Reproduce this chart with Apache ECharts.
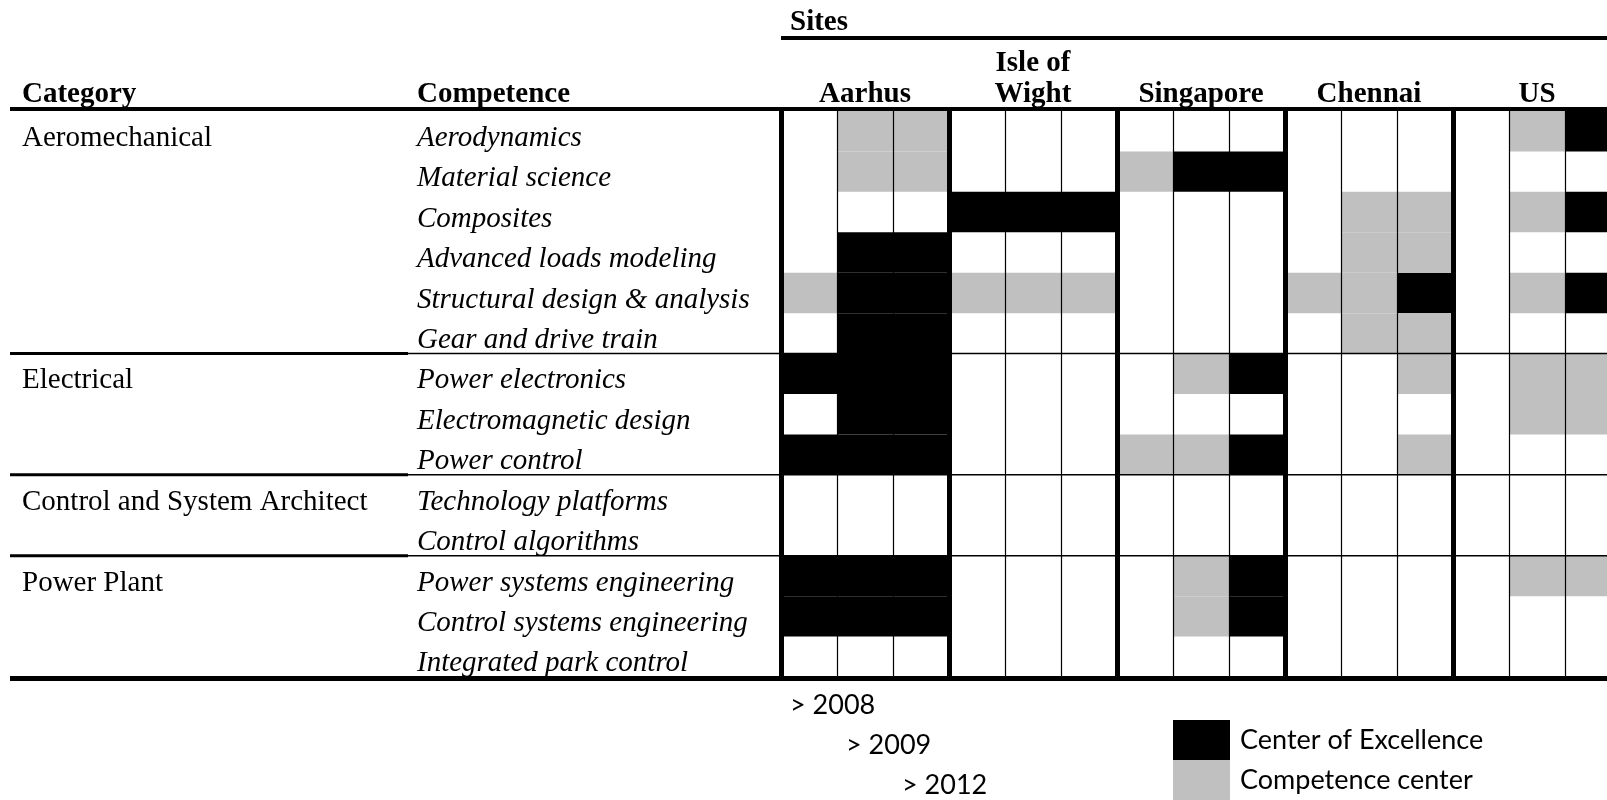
<!DOCTYPE html>
<html>
<head>
<meta charset="utf-8">
<title>Competence centers by site</title>
<script src="https://cdn.jsdelivr.net/npm/echarts@6/dist/echarts.min.js"></script>
<style>
  html, body { margin: 0; padding: 0; background: #fff; }
  #chart { width: 1607px; height: 800px; }
</style>
</head>
<body>
<div id="chart"></div>
<script>
const sites = ['Aarhus', 'Isle of\nWight', 'Singapore', 'Chennai', 'US'];
const years = ['> 2008', '> 2009', '> 2012'];
const categories = ['Aeromechanical', 'Electrical', 'Control and System Architect', 'Power Plant'];
const categoryRows = [6, 3, 2, 3];
const competences = [
  'Aerodynamics', 'Material science', 'Composites', 'Advanced loads modeling',
  'Structural design & analysis', 'Gear and drive train',
  'Power electronics', 'Electromagnetic design', 'Power control',
  'Technology platforms', 'Control algorithms',
  'Power systems engineering', 'Control systems engineering', 'Integrated park control'
];

// 0 = nothing, 1 = Competence center, 2 = Center of Excellence
// one list per year column (> 2008, > 2009, > 2012), one value per competence
const aarhus = [
  [0, 0, 0, 0, 1, 0, 2, 0, 2, 0, 0, 2, 2, 0],
  [1, 1, 0, 2, 2, 2, 2, 2, 2, 0, 0, 2, 2, 0],
  [1, 1, 0, 2, 2, 2, 2, 2, 2, 0, 0, 2, 2, 0]
];
const isleOfWight = [
  [0, 0, 2, 0, 1, 0, 0, 0, 0, 0, 0, 0, 0, 0],
  [0, 0, 2, 0, 1, 0, 0, 0, 0, 0, 0, 0, 0, 0],
  [0, 0, 2, 0, 1, 0, 0, 0, 0, 0, 0, 0, 0, 0]
];
const singapore = [
  [0, 1, 0, 0, 0, 0, 0, 0, 1, 0, 0, 0, 0, 0],
  [0, 2, 0, 0, 0, 0, 1, 0, 1, 0, 0, 1, 1, 0],
  [0, 2, 0, 0, 0, 0, 2, 0, 2, 0, 0, 2, 2, 0]
];
const chennai = [
  [0, 0, 0, 0, 1, 0, 0, 0, 0, 0, 0, 0, 0, 0],
  [0, 0, 1, 1, 1, 1, 0, 0, 0, 0, 0, 0, 0, 0],
  [0, 0, 1, 1, 2, 1, 1, 0, 1, 0, 0, 0, 0, 0]
];
const us = [
  [0, 0, 0, 0, 0, 0, 0, 0, 0, 0, 0, 0, 0, 0],
  [1, 0, 1, 0, 1, 0, 1, 1, 0, 0, 0, 1, 0, 0],
  [2, 0, 2, 0, 2, 0, 1, 1, 0, 0, 0, 1, 0, 0]
];

const SERIF = "'Liberation Serif', 'Times New Roman', serif";
const SANS = "Lato, 'Open Sans', sans-serif";
const RIGHT = 1607;

const columns = [].concat(aarhus, isleOfWight, singapore, chennai, us);
const nCols = columns.length;
const nRows = competences.length;

function cellsOf(level) {
  const out = [];
  columns.forEach((col, c) => {
    col.forEach((v, r) => {
      if (v === level) out.push([c, r]);
    });
  });
  return out;
}

// category name only on the first row of its block
const rowCategory = [];
categories.forEach((name, i) => {
  for (let k = 0; k < categoryRows[i]; k++) rowCategory.push(k === 0 ? name : '');
});

const groupEdges = [];
for (let i = 0; i <= sites.length; i++) groupEdges.push({ xAxis: i * 3 });

function renderCell(params, api) {
  const p0 = api.coord([api.value(0), api.value(1)]);
  const p1 = api.coord([api.value(0) + 1, api.value(1) + 1]);
  return {
    type: 'rect',
    shape: {
      x: Math.min(p0[0], p1[0]),
      y: Math.min(p0[1], p1[1]),
      width: Math.abs(p1[0] - p0[0]),
      height: Math.abs(p1[1] - p0[1])
    },
    style: { fill: api.visual('color') }
  };
}

const labelBase = { color: '#000', fontFamily: SERIF, fontSize: 29 };
const hidden = { axisLine: { show: false }, axisTick: { show: false }, splitLine: { show: false } };

const option = {
  animation: false,
  backgroundColor: '#fff',
  grid: [
    // cells
    { left: 781, top: 111, width: 840, height: 566, containLabel: false, outerBoundsMode: 'none' },
    // row labels, sitting a little lower like the text baseline of the table
    { left: 781, top: 118, width: 840, height: 566, containLabel: false, outerBoundsMode: 'none' }
  ],
  legend: {
    orient: 'vertical',
    left: 1173,
    top: 720,
    padding: 0,
    itemGap: 0,
    itemWidth: 57,
    itemHeight: 40,
    icon: 'rect',
    selectedMode: false,
    data: ['Center of Excellence', 'Competence center'],
    textStyle: { color: '#000', fontFamily: SANS, fontSize: 27, padding: [0, 0, 0, 5] }
  },
  xAxis: [
    {
      type: 'value', min: 0, max: nCols, interval: 1, z: 3,
      axisLine: { show: false }, axisTick: { show: false }, axisLabel: { show: false },
      splitLine: { show: true, lineStyle: { color: '#000', width: 1.2 } }
    },
    Object.assign({
      type: 'category', position: 'top', data: columns.map((c, i) => i),
      axisLabel: Object.assign({}, labelBase, {
        interval: 0, margin: 1, fontWeight: 'bold', lineHeight: 31,
        formatter: (v, i) => (i % 3 === 1 ? sites[Math.floor(i / 3)] : '')
      })
    }, hidden),
    { type: 'value', gridIndex: 1, show: false }
  ],
  yAxis: [
    Object.assign({
      type: 'value', position: 'left', min: 0, max: nRows, interval: 1, inverse: true,
      axisLabel: { show: false }
    }, hidden),
    Object.assign({
      type: 'category', gridIndex: 1, position: 'left', inverse: true, data: competences,
      axisLabel: Object.assign({}, labelBase, {
        interval: 0, align: 'left', margin: 364, fontStyle: 'italic'
      })
    }, hidden),
    Object.assign({
      type: 'category', gridIndex: 1, position: 'left', inverse: true, data: rowCategory.map((n, i) => i),
      axisLabel: Object.assign({}, labelBase, {
        interval: 0, align: 'left', margin: 759,
        formatter: (v, i) => rowCategory[i]
      })
    }, hidden)
  ],
  series: [
    {
      name: 'Center of Excellence',
      type: 'custom',
      xAxisIndex: 0, yAxisIndex: 0,
      encode: { x: 0, y: 1 },
      itemStyle: { color: '#000' },
      renderItem: renderCell,
      data: cellsOf(2),
      markLine: {
        silent: true,
        symbol: ['none', 'none'],
        label: { show: false },
        lineStyle: { color: '#000', width: 5, type: 'solid' },
        data: groupEdges
      }
    },
    {
      name: 'Competence center',
      type: 'custom',
      xAxisIndex: 0, yAxisIndex: 0,
      encode: { x: 0, y: 1 },
      itemStyle: { color: '#c0c0c0' },
      renderItem: renderCell,
      data: cellsOf(1)
    }
  ]
};

const chart = echarts.init(document.getElementById('chart'));
chart.setOption(option);

// table rules and header texts, placed from the axes
const px = v => chart.convertToPixel({ xAxisIndex: 0 }, v);
const py = v => chart.convertToPixel({ yAxisIndex: 0 }, v);
const tableTop = py(0);
const tableBottom = py(nRows);
const tableLeft = px(0);

function hline(y, x1, x2, w) {
  return { type: 'line', silent: true, z: 10, shape: { x1: x1, y1: y, x2: x2, y2: y }, style: { stroke: '#000', lineWidth: w } };
}
function text(t, x, y, extra) {
  return {
    type: 'text', silent: true, z: 10, x: x, y: y,
    style: Object.assign({ text: t, fill: '#000', font: '29px ' + SERIF, align: 'left', verticalAlign: 'middle' }, extra || {})
  };
}

const graphics = [
  text('Sites', tableLeft + 9, 23, { font: 'bold 29px ' + SERIF }),
  text('Category', 22, 95, { font: 'bold 29px ' + SERIF }),
  text('Competence', 417, 95, { font: 'bold 29px ' + SERIF }),
  hline(38, tableLeft, RIGHT, 4),
  hline(tableTop - 2, 10, RIGHT, 4),
  hline(tableBottom + 1.5, 10, RIGHT, 5)
];
let acc = 0;
categoryRows.slice(0, -1).forEach(n => {
  acc += n;
  const y = py(acc);
  graphics.push(hline(y, 10, 408, 3));
  graphics.push(hline(y, 408, RIGHT, 1.5));
});
years.forEach((t, i) => {
  graphics.push(text(t, px(i) + 9, tableBottom + 28 + i * 40, { font: '27px ' + SANS }));
});

chart.setOption({ graphic: graphics });
</script>
</body>
</html>
